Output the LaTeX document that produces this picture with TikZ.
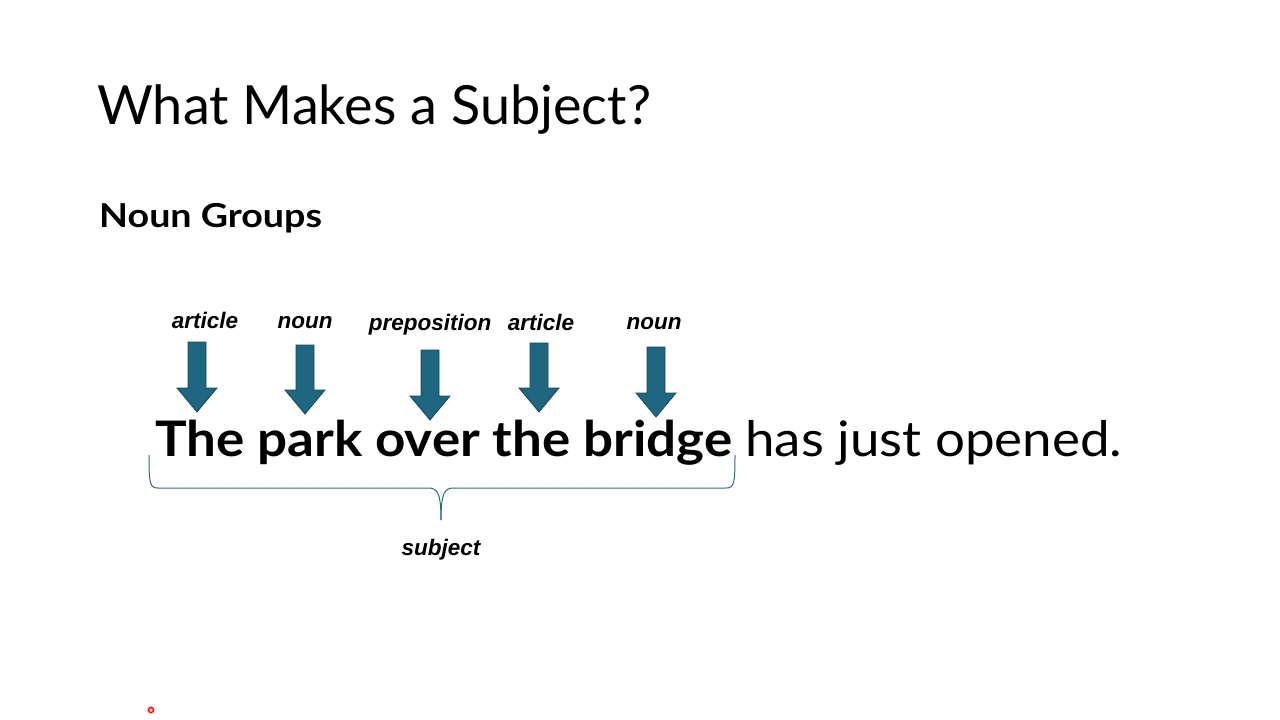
\documentclass[tikz,border=0pt]{standalone}
\usepackage{fontspec}
\setmainfont{Lato}
\newfontfamily\lblfont{Liberation Sans}
\definecolor{arrowfill}{HTML}{1F6680}
\definecolor{arrowline}{HTML}{17495C}
\definecolor{bracecol}{HTML}{2E6A7E}
\tikzset{
  lbl/.style={inner sep=0pt, font=\lblfont\fontsize{22.5}{26}\selectfont\bfseries\itshape, anchor=base},
  downarrow/.style={fill=arrowfill, draw=arrowline, line width=0.8pt, line join=miter},
}
\newcommand{\darrow}[3]{% x, top, bottom
  \draw[downarrow] (#1-9,#2) -- (#1+9,#2) -- (#1+9,#3-24) -- (#1+20,#3-24) -- (#1,#3) -- (#1-20,#3-24) -- (#1-9,#3-24) -- cycle;}
\begin{document}
\begin{tikzpicture}[x=1pt,y=-1pt]
\useasboundingbox (0,0) rectangle (1280,720);
\fill[white] (0,0) rectangle (1280,720);
\node[inner sep=0pt, anchor=base west, font=\fontsize{54}{60}\selectfont] (title) at (97,124) {What Makes a Subject?};
\node[inner sep=0pt, anchor=base west, font=\fontsize{33}{36}\selectfont\bfseries] (sub) at (99,227) {\scalebox{1.14}[1]{Noun Groups}};
\node[lbl] (l1) at (205,328) {article};
\node[lbl] (l2) at (305,328) {noun};
\node[lbl] (l3) at (430,330) {preposition};
\node[lbl] (l4) at (541,330) {article};
\node[lbl] (l5) at (654,329) {noun};
\darrow{197}{342}{412}
\darrow{305}{345}{414}
\darrow{430}{350}{420}
\darrow{539}{343}{412}
\darrow{656}{347}{417}
\node[inner sep=0pt, anchor=base west, font=\fontsize{49}{56}\selectfont\bfseries] (np) at (155,456) {\scalebox{1.08}[1]{The park over the bridge}};
\node[inner sep=0pt, anchor=base west, font=\fontsize{49}{56}\selectfont] (vp) at (745,456) {\scalebox{1.08}[1]{has just opened.}};
\draw[bracecol, line width=1pt] (149,455) .. controls (149,484) and (150,488) .. (158,488) -- (428,488) .. controls (437,488) and (441,492) .. (441,520);
\draw[bracecol, line width=1pt] (735,455) .. controls (735,484) and (734,488) .. (726,488) -- (454,488) .. controls (445,488) and (441,492) .. (441,520);
\node[lbl] (subj) at (441,555) {subject};
\node[circle, fill=red!20, inner sep=0pt, minimum size=9pt] (ptr) at (151,710) {};
\node[circle, draw=red!85!black, line width=1.2pt, inner sep=0pt, minimum size=5pt] (ptrc) at (151,710) {};
\end{tikzpicture}
\end{document}
